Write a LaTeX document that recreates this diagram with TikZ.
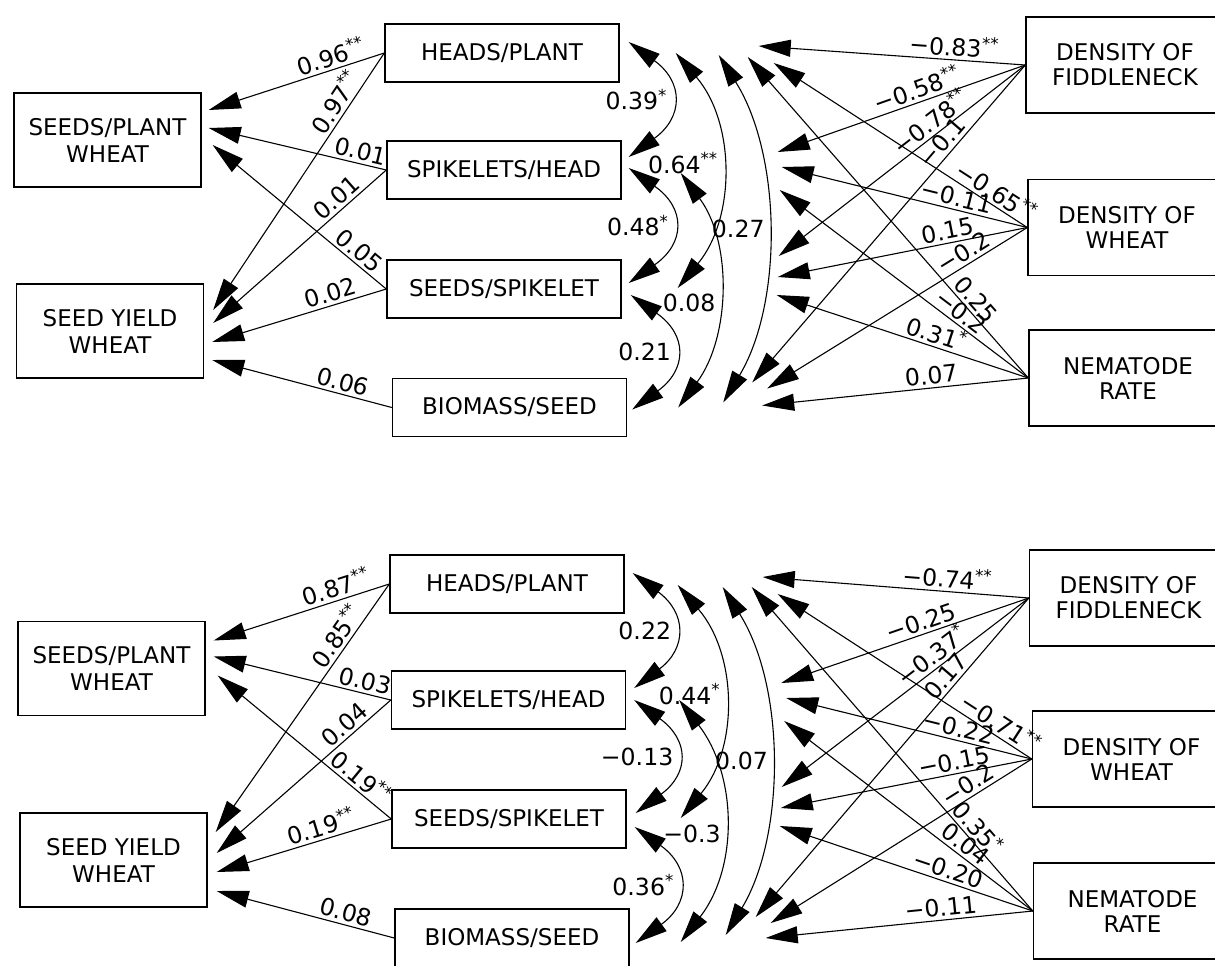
\documentclass[tikz,border=0pt]{standalone}
\usepackage{fontspec}
\setmainfont{DejaVu Sans}
\usetikzlibrary{arrows.meta,calc}

\tikzset{
  outbox/.style={draw, line width=0.7pt, minimum width=93.5pt, minimum height=47pt, inner sep=0pt, align=center, font=\fontsize{11.5}{13.5}\selectfont},
  compbox/.style={draw, line width=0.7pt, minimum width=117pt, minimum height=29pt, inner sep=0pt, font=\fontsize{11.5}{13.5}\selectfont},
  factbox/.style={draw, line width=0.7pt, minimum width=99pt, minimum height=48pt, inner sep=0pt, align=center, font=\fontsize{11.5}{12.5}\selectfont},
  effect/.style={->, line width=0.55pt},
  corr/.style={<->, line width=0.55pt},
  coef/.style={sloped, above, inner sep=1.5pt, font=\fontsize{11.8}{12}\selectfont},
  rlab/.style={left, inner sep=1pt, font=\fontsize{11.8}{12}\selectfont}
}

\begin{document}
\begin{tikzpicture}[x=0.5pt, y=-0.5pt, >={Triangle[length=16pt,width=8.5pt]}]
    \useasboundingbox (0,0) rectangle (1215,965);

    % Boxes (upper diagram)
    \node[outbox] (spwA) at (107.5,140) {SEEDS/PLANT\\WHEAT};
    \node[outbox] (syA) at (110,331) {SEED YIELD\\WHEAT};
    \node[compbox] (hpA) at (502,53) {HEADS/PLANT};
    \node[compbox] (shA) at (504,170) {SPIKELETS/HEAD};
    \node[compbox] (ssA) at (504,289) {SEEDS/SPIKELET};
    \node[compbox] (bmA) at (509.5,407.5) {BIOMASS/SEED};
    \node[factbox] (fdA) at (1125,65) {DENSITY OF\\FIDDLENECK};
    \node[factbox] (dwA) at (1127,227.5) {DENSITY OF\\WHEAT};
    \node[factbox] (nrA) at (1128,378) {NEMATODE\\RATE};

    % Boxes (lower diagram)
    \node[outbox] (spwB) at (111.5,668.5) {SEEDS/PLANT\\WHEAT};
    \node[outbox] (syB) at (113.5,860) {SEED YIELD\\WHEAT};
    \node[compbox] (hpB) at (507,584) {HEADS/PLANT};
    \node[compbox] (shB) at (508.5,700) {SPIKELETS/HEAD};
    \node[compbox] (ssB) at (509,819) {SEEDS/SPIKELET};
    \node[compbox] (bmB) at (512,938) {BIOMASS/SEED};
    \node[factbox] (fdB) at (1128.5,598) {DENSITY OF\\FIDDLENECK};
    \node[factbox] (dwB) at (1131.5,759) {DENSITY OF\\WHEAT};
    \node[factbox] (nrB) at (1132.5,911) {NEMATODE\\RATE};

    % Components -> wheat (upper)
    \draw[effect] (hpA.west) -- ($(spwA.east)+(7,-30)$) node[coef, pos=0.28] {0.96\textsuperscript{**}};
    \draw[effect] (hpA.west) -- ($(syA.east)+(9,-21)$) node[coef, pos=0.22] {0.97\textsuperscript{**}};
    \draw[effect] (shA.west) -- ($(spwA.east)+(7,-12)$) node[coef, pos=0.16] {0.01};
    \draw[effect] (shA.west) -- ($(syA.east)+(9,-8)$) node[coef, pos=0.24] {0.01};
    \draw[effect] (ssA.west) -- ($(spwA.east)+(11,5)$) node[coef, pos=0.2] {0.05};
    \draw[effect] (ssA.west) -- ($(syA.east)+(8,11)$) node[coef, pos=0.3] {0.02};
    \draw[effect] (bmA.west) -- ($(syA.east)+(8,29)$) node[coef, pos=0.29] {0.06};

    % Correlations between components (upper)
    \draw[corr] ($(hpA.east)+(9,-11)$) .. controls +(55,40) and +(55,-40) .. ($(shA.east)+(7,-13)$) node[rlab, pos=0.5] {0.39\textsuperscript{*}};
    \draw[corr] ($(shA.east)+(7,-2)$) .. controls +(57,40) and +(57,-40) .. ($(ssA.east)+(7,-6)$) node[rlab, pos=0.5] {0.48\textsuperscript{*}};
    \draw[corr] ($(ssA.east)+(9,6)$) .. controls +(57,40) and +(55,-40) .. ($(bmA.east)+(5,2)$) node[rlab, pos=0.5] {0.21};
    \draw[corr] ($(hpA.east)+(56,0)$) .. controls +(60,70) and +(58,-70) .. ($(ssA.east)+(56,-1)$) node[rlab, pos=0.47] {0.64\textsuperscript{**}};
    \draw[corr] ($(shA.east)+(59,3)$) .. controls +(52,70) and +(52,-70) .. ($(bmA.east)+(51,0)$) node[rlab, pos=0.55] {0.08};
    \draw[corr] ($(hpA.east)+(99,2)$) .. controls +(63,100) and +(60,-100) .. ($(bmA.east)+(96,-5)$) node[rlab, pos=0.5] {0.27};

    % Factors -> components (upper)
    \draw[effect] (fdA.west) -- ($(hpA.east)+(139,-7)$) node[coef, pos=0.27] {−0.83\textsuperscript{**}};
    \draw[effect] (fdA.west) -- ($(shA.east)+(156,-18)$) node[coef, pos=0.42] {−0.58\textsuperscript{**}};
    \draw[effect] (fdA.west) -- ($(ssA.east)+(157,-33)$) node[coef, pos=0.35] {−0.78\textsuperscript{**}};
    \draw[effect] (fdA.west) -- ($(bmA.east)+(125,-25)$) node[coef, pos=0.27] {−0.1};
    \draw[effect] (dwA.west) -- ($(hpA.east)+(154,10)$) node[coef, pos=0.15] {−0.65\textsuperscript{**}};
    \draw[effect] (dwA.west) -- ($(shA.east)+(160,-3)$) node[coef, pos=0.3] {−0.11};
    \draw[effect] (dwA.west) -- ($(ssA.east)+(156,-12)$) node[coef, pos=0.31] {0.15};
    \draw[effect] (dwA.west) -- ($(bmA.east)+(140,-19)$) node[coef, pos=0.22] {−0.2};
    \draw[effect] (nrA.west) -- ($(hpA.east)+(128,4)$) node[coef, pos=0.22] {0.25};
    \draw[effect] (nrA.west) -- ($(shA.east)+(158,20)$) node[coef, pos=0.3] {−0.2};
    \draw[effect] (nrA.west) -- ($(ssA.east)+(155,6)$) node[coef, pos=0.38] {0.31\textsuperscript{*}};
    \draw[effect] (nrA.west) -- ($(bmA.east)+(135,-2)$) node[coef, pos=0.36] {0.07};

    % Components -> wheat (lower)
    \draw[effect] (hpB.west) -- ($(spwB.east)+(8,-28)$) node[coef, pos=0.28] {0.87\textsuperscript{**}};
    \draw[effect] (hpB.west) -- ($(syB.east)+(8,-28)$) node[coef, pos=0.24] {0.85\textsuperscript{**}};
    \draw[effect] (shB.west) -- ($(spwB.east)+(8,-12)$) node[coef, pos=0.16] {0.03};
    \draw[effect] (shB.west) -- ($(syB.east)+(9,-7)$) node[coef, pos=0.22] {0.04};
    \draw[effect] (ssB.west) -- ($(spwB.east)+(12,7)$) node[coef, pos=0.22] {0.19\textsuperscript{**}};
    \draw[effect] (ssB.west) -- ($(syB.east)+(9,12)$) node[coef, pos=0.38] {0.19\textsuperscript{**}};
    \draw[effect] (bmB.west) -- ($(syB.east)+(9,31)$) node[coef, pos=0.29] {0.08};

    % Correlations between components (lower)
    \draw[corr] ($(hpB.east)+(8,-11)$) .. controls +(54,40) and +(53,-40) .. ($(shB.east)+(8,-12)$) node[rlab, pos=0.5] {0.22};
    \draw[corr] ($(shB.east)+(8,0)$) .. controls +(55,40) and +(54,-40) .. ($(ssB.east)+(9,-6)$) node[rlab, pos=0.5] {−0.13};
    \draw[corr] ($(ssB.east)+(8,8)$) .. controls +(56,40) and +(55,-40) .. ($(bmB.east)+(6,5)$) node[rlab, pos=0.5] {0.36\textsuperscript{*}};
    \draw[corr] ($(hpB.east)+(53,1)$) .. controls +(60,70) and +(58,-70) .. ($(ssB.east)+(54,-1)$) node[rlab, pos=0.47] {0.44\textsuperscript{*}};
    \draw[corr] ($(shB.east)+(53,0)$) .. controls +(58,75) and +(58,-75) .. ($(bmB.east)+(51,4)$) node[rlab, pos=0.55] {−0.3};
    \draw[corr] ($(hpB.east)+(98,3)$) .. controls +(63,100) and +(60,-100) .. ($(bmB.east)+(96,-3)$) node[rlab, pos=0.5] {0.07};

    % Factors -> components (lower)
    \draw[effect] (fdB.west) -- ($(hpB.east)+(138,-7)$) node[coef, pos=0.31] {−0.74\textsuperscript{**}};
    \draw[effect] (fdB.west) -- ($(shB.east)+(155,-17)$) node[coef, pos=0.42] {−0.25};
    \draw[effect] (fdB.west) -- ($(ssB.east)+(155,-32)$) node[coef, pos=0.36] {−0.37\textsuperscript{*}};
    \draw[effect] (fdB.west) -- ($(bmB.east)+(126,-21)$) node[coef, pos=0.27] {0.17};
    \draw[effect] (dwB.west) -- ($(hpB.east)+(153,10)$) node[coef, pos=0.15] {−0.71\textsuperscript{**}};
    \draw[effect] (dwB.west) -- ($(shB.east)+(160,-2)$) node[coef, pos=0.31] {−0.22};
    \draw[effect] (dwB.west) -- ($(ssB.east)+(154,-11)$) node[coef, pos=0.3] {−0.15};
    \draw[effect] (dwB.west) -- ($(bmB.east)+(141,-15)$) node[coef, pos=0.22] {−0.2};
    \draw[effect] (nrB.west) -- ($(hpB.east)+(127,3)$) node[coef, pos=0.23] {0.35\textsuperscript{*}};
    \draw[effect] (nrB.west) -- ($(shB.east)+(158,21)$) node[coef, pos=0.3] {0.04};
    \draw[effect] (nrB.west) -- ($(ssB.east)+(153,7)$) node[coef, pos=0.35] {−0.20};
    \draw[effect] (nrB.west) -- ($(bmB.east)+(136,0)$) node[coef, pos=0.34] {−0.11};
\end{tikzpicture}
\end{document}
